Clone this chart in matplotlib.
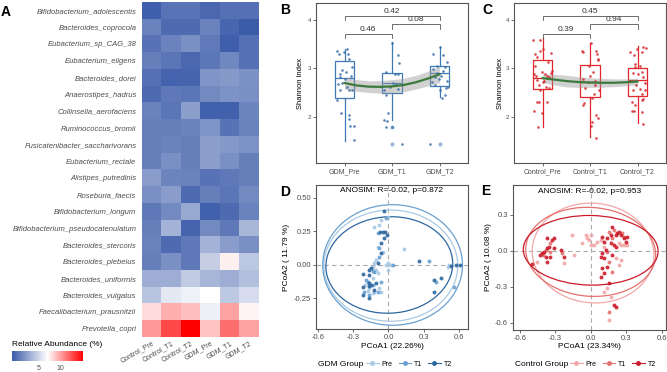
import numpy as np
import matplotlib.pyplot as plt
from matplotlib.colors import LinearSegmentedColormap, Normalize
from matplotlib.patches import Ellipse
from matplotlib.lines import Line2D

plt.rcParams['font.family'] = ['Liberation Sans', 'DejaVu Sans']

# ---------------- panel A data ----------------
taxa = ['Bifidobacterium_adolescentis', 'Bacteroides_coprocola', 'Eubacterium_sp_CAG_38',
        'Eubacterium_eligens', 'Bacteroides_dorei', 'Anaerostipes_hadrus',
        'Collinsella_aerofaciens', 'Ruminococcus_bromii', 'Fusicatenibacter_saccharivorans',
        'Eubacterium_rectale', 'Alistipes_putredinis', 'Roseburia_faecis',
        'Bifidobacterium_longum', 'Bifidobacterium_pseudocatenulatum', 'Bacteroides_stercoris',
        'Bacteroides_plebeius', 'Bacteroides_uniformis', 'Bacteroides_vulgatus',
        'Faecalibacterium_prausnitzii', 'Prevotella_copri']
samples = ['Control_Pre', 'Control_T1', 'Control_T2', 'GDM_Pre', 'GDM_T1', 'GDM_T2']
abund = [
    [-1.24, -0.12, -0.12, -0.82, -0.32, -0.32],
    [0.57, -0.59, -0.59, 0.53, -0.90, -1.50],
    [-0.20, 0.61, 1.26, 0.14, -1.29, -0.33],
    [0.40, -0.07, -0.77, 0.01, 0.83, -0.33],
    [-0.33, -1.06, -0.98, 1.52, 1.78, 1.35],
    [-0.64, 0.06, -0.07, 0.96, 1.39, 1.26],
    [0.57, -0.07, 2.04, -1.11, -1.11, 0.74],
    [0.40, 0.40, 0.57, 1.48, -0.20, 0.57],
    [0.40, 0.57, 0.40, 2.04, 1.73, 1.39],
    [0.40, 1.26, 0.40, 2.04, 1.26, 0.40],
    [1.95, 0.74, 0.57, -0.20, 0.06, 0.40],
    [1.26, 1.95, -0.59, 0.40, -0.07, 0.96],
    [0.06, 0.96, 2.51, -1.19, -0.59, 0.57],
    [0.40, 3.03, -1.03, 0.96, 0.06, 3.25],
    [0.57, -0.59, 0.06, 3.03, 1.95, 1.26],
    [0.40, 1.26, 0.06, 4.50, 7.50, 4.11],
    [2.77, 2.77, 4.28, 3.16, 2.77, 3.68],
    [3.98, 5.83, 6.27, 7.00, 4.19, 5.23],
    [8.16, 9.70, 9.17, 6.22, 10.07, 7.40],
    [10.37, 13.04, 15.50, 8.96, 11.84, 10.07],
]

# ---------------- panel B/C data ----------------
gdm_groups = ['GDM_Pre', 'GDM_T1', 'GDM_T2']
ctrl_groups = ['Control_Pre', 'Control_T1', 'Control_T2']

gdm_box = [  # q1, median, q3, whisker low, whisker high, outliers
    (2.39, 2.80, 3.15, 1.51, 3.41, []),
    (2.49, 2.70, 2.91, 1.93, 3.54, [1.80, 1.44]),
    (2.63, 2.90, 3.06, 2.41, 3.44, [1.44]),
]
ctrl_box = [
    (2.58, 2.81, 3.18, 1.80, 3.62, []),
    (2.41, 2.72, 3.08, 1.58, 3.52, []),
    (2.43, 2.77, 3.00, 1.87, 3.47, []),
]

gdm_pre_jit = [-0.16, -0.11, -0.02, 0.05, 0.07, 0.10, -0.05, 0.04, 0.15, 0.14, -0.09, -0.13, -0.09,
               0.10, 0.15, -0.16, -0.08, 0.10, 0.10, 0.12, 0.19, 0.19, -0.06, 0.0, 0.06, -0.10]
gdm_pre_sh = [3.37, 3.29, 3.34, 3.40, 3.30, 3.20, 2.96, 2.93, 3.02, 2.85, 2.88, 2.68, 2.55,
              2.55, 2.55, 2.35, 2.08, 2.05, 1.95, 1.82, 1.82, 1.52, 2.70, 2.78, 2.62, 2.82]
gdm_t1_jit = [0.0, 0.13, 0.155, -0.13, 0.07, 0.13, -0.16, -0.12, 0.09, -0.04, 0.02, 0.12,
              -0.09, -0.16, -0.10, -0.12, 0.0, 0.20]
gdm_t1_sh = [3.52, 3.27, 3.11, 2.93, 2.89, 2.88, 2.55, 2.46, 2.68, 2.62, 2.70, 2.58,
             2.08, 1.94, 1.91, 1.79, 1.80, 1.44]
gdm_t2_jit = [-0.13, 0.01, 0.08, 0.15, -0.13, -0.06, 0.08, 0.12, -0.16, -0.09, 0.01, 0.13,
              0.18, 0.05, 0.12, -0.02, 0.03, -0.10, 0.16, -0.06, -0.20]
gdm_t2_sh = [3.30, 3.44, 3.27, 3.14, 2.98, 2.90, 2.95, 3.02, 2.72, 2.65, 2.55, 2.60,
             2.62, 2.40, 2.45, 2.78, 2.85, 2.83, 2.75, 3.05, 1.44]

ctrl_pre_jit = [-0.20, -0.05, 0.18, -0.16, -0.12, -0.05, 0.02, -0.18, -0.14, -0.11, -0.02, 0.05,
                0.10, 0.14, 0.17, -0.05, -0.12, -0.07, 0.10, -0.18, -0.02, -0.09, 0.07, 0.14,
                -0.16, 0.12, 0.0, 0.21, -0.08, 0.04]
ctrl_pre_sh = [3.59, 3.59, 3.32, 3.30, 3.23, 3.37, 3.41, 2.89, 2.84, 2.77, 2.92, 2.89,
               2.85, 2.82, 2.90, 2.56, 2.31, 2.31, 2.31, 2.12, 2.08, 1.80, 2.62, 2.60,
               3.06, 3.13, 2.73, 2.95, 2.65, 2.75]
ctrl_t1_jit = [-0.15, 0.02, 0.14, 0.17, -0.16, 0.13, 0.16, 0.06, 0.0, 0.11, 0.18, -0.05, -0.12,
               -0.15, 0.13, 0.16, 0.035, 0.02, 0.13, -0.10, 0.08, -0.03, 0.10, -0.14, 0.05]
ctrl_t1_sh = [3.34, 3.52, 3.30, 3.20, 3.37, 3.37, 3.18, 2.92, 2.85, 2.75, 2.56, 2.72, 2.29,
              2.24, 2.03, 1.98, 1.89, 1.82, 1.57, 2.60, 2.48, 3.05, 2.65, 2.78, 2.40]
ctrl_t2_jit = [-0.16, -0.07, -0.02, 0.09, 0.18, -0.05, 0.02, 0.09, 0.12, -0.03, 0.05, 0.16, 0.09,
               -0.09, -0.12, -0.05, 0.09, 0.12, 0.09, -0.07, -0.12, 0.12, -0.05, 0.05, 0.12,
               -0.16, 0.15, -0.10]
ctrl_t2_sh = [3.34, 3.27, 3.41, 3.34, 3.43, 3.03, 2.89, 2.92, 2.82, 2.65, 2.58, 2.55, 2.48,
              2.55, 2.31, 2.24, 2.34, 2.37, 2.10, 2.13, 2.13, 1.86, 3.10, 3.06, 3.44,
              2.75, 2.70, 2.90]

smooth_x = [1, 1.25, 1.5, 1.75, 2, 2.25, 2.5, 2.75, 3]
gdm_fit = [2.70, 2.65, 2.625, 2.62, 2.63, 2.66, 2.715, 2.79, 2.88]
gdm_se = [0.13, 0.12, 0.12, 0.13, 0.14, 0.14, 0.14, 0.15, 0.17]
ctrl_fit = [2.80, 2.77, 2.74, 2.72, 2.71, 2.705, 2.705, 2.715, 2.73]
ctrl_se = [0.09, 0.11, 0.12, 0.11, 0.10, 0.09, 0.08, 0.07, 0.07]

gdm_pvals = [(1, 2, 3.72, '0.46'), (1, 3, 4.09, '0.42'), (2, 3, 3.91, '0.08')]
ctrl_pvals = [(1, 2, 3.72, '0.39'), (1, 3, 4.09, '0.45'), (2, 3, 3.91, '0.94')]

# ---------------- panel D/E data ----------------
time_labels = ['Pre', 'T1', 'T2']

gdm_pre_x = [-0.064, -0.007, -0.078, -0.121, -0.092, -0.106, -0.121, -0.135, -0.092, -0.078, -0.177,
             -0.121, -0.135, -0.007, 0.021, -0.021, 0.135, 0.504, 0.517, -0.064, -0.163, -0.197,
             -0.135, -0.106, -0.05, -0.007]
gdm_pre_y = [0.336, 0.36, 0.299, 0.286, 0.137, 0.037, 0.013, -0.012, -0.062, -0.174, -0.194,
             -0.199, -0.211, 0.013, 0.0, 0.0, 0.117, -0.012, 0.0, -0.199, -0.174, -0.149,
             -0.1, -0.037, 0.1, -0.04]
gdm_t1_x = [-0.021, -0.092, -0.078, -0.078, -0.135, -0.121, -0.191, -0.135, -0.064, -0.206, -0.163,
            -0.092, 0.036, 0.347, 0.404, 0.56, -0.177]
gdm_t1_y = [0.348, 0.236, 0.124, 0.062, -0.045, -0.05, -0.112, -0.149, -0.124, -0.199, -0.224,
            -0.199, 0.0, 0.03, -0.124, -0.162, -0.124]
gdm_t2_x = [-0.036, -0.072, -0.05, -0.03, -0.015, -0.036, -0.064, -0.064, -0.092, -0.149, -0.163,
            -0.22, -0.163, -0.163, -0.149, -0.169, -0.106, -0.22, -0.22, 0.262, 0.532, 0.574,
            0.609, 0.39, 0.447, 0.39, -0.163, -0.121]
gdm_t2_y = [0.405, 0.249, 0.249, 0.249, 0.224, 0.199, 0.162, 0.087, 0.013, -0.025, -0.037,
            -0.07, -0.075, -0.137, -0.149, -0.157, -0.137, -0.162, -0.224, 0.03, -0.007, 0.0,
            0.0, -0.112, -0.1, -0.199, -0.249, -0.187]

ctrl_pre_x = [-0.453, -0.227, -0.142, -0.156, -0.072, -0.043, -0.035, -0.015, 0.0, 0.084, 0.112,
              0.239, 0.253, 0.281, 0.309, 0.211, 0.239, 0.253, 0.14, 0.112, 0.169, 0.154, 0.027,
              0.055, 0.0]
ctrl_pre_y = [-0.092, -0.105, -0.036, 0.131, 0.062, 0.131, 0.103, 0.089, 0.048, 0.089, 0.033,
              0.062, 0.048, 0.048, 0.048, -0.064, -0.119, -0.078, -0.314, -0.342, -0.383, -0.578,
              0.048, 0.075, 0.131]
ctrl_t1_x = [-0.382, -0.34, -0.402, -0.34, -0.242, 0.154, 0.197, 0.267, 0.182, 0.14, 0.154, 0.182,
             0.154, 0.281]
ctrl_t1_y = [0.006, 0.062, -0.036, -0.008, -0.022, 0.158, 0.173, 0.145, 0.103, -0.008, -0.092,
             -0.175, -0.508, 0.117]
ctrl_t2_x = [-0.496, -0.425, -0.411, -0.397, -0.369, -0.354, -0.326, -0.369, -0.312, -0.346, -0.369,
             -0.382, -0.312, -0.255, -0.227, 0.097, 0.112, 0.14, 0.169, 0.182, 0.211, 0.225, 0.239,
             0.253, 0.281, 0.309, 0.169, 0.197, 0.126, 0.211, 0.097, 0.084, 0.112, 0.182, 0.14,
             0.097, 0.112, 0.084, 0.154, 0.197, 0.211, 0.296]
ctrl_t2_y = [-0.111, -0.036, -0.022, -0.008, 0.02, 0.033, 0.089, 0.103, 0.103, -0.05, -0.092,
             -0.05, 0.02, 0.006, -0.05, 0.117, 0.075, 0.103, 0.131, 0.2, 0.131, 0.145, 0.158,
             0.131, 0.103, 0.117, 0.062, 0.048, 0.006, 0.033, -0.022, -0.05, -0.064, -0.036,
             -0.133, -0.147, -0.189, -0.217, -0.272, -0.453, -0.467, 0.075]

# ellipse: centre x, centre y, width, height, angle
gdm_ell = [(0.02, -0.005, 1.14, 0.83, 0), (0.035, 0.0, 1.19, 0.90, 0), (0.007, 0.0, 1.08, 0.72, 2)]
ctrl_ell = [(0.02, -0.02, 1.03, 0.83, -5), (0.0, -0.01, 1.10, 0.74, -4), (0.0, 0.003, 1.14, 0.58, -1)]

# ---------------- figure ----------------
W, H = 667, 372
fig = plt.figure(figsize=(W / 100, H / 100), dpi=100)
TXT = '#4D4D4D'


def add_ax(x0, y0, x1, y1):
    return fig.add_axes([x0 / W, 1 - y1 / H, (x1 - x0) / W, (y1 - y0) / H])


def style_frame(ax):
    for s in ax.spines.values():
        s.set_color('#555555')
        s.set_linewidth(0.8)
    ax.tick_params(length=2, width=0.5, color='#333333', labelcolor=TXT, pad=1.5)


# A: heatmap
ax = add_ax(142, 2, 259, 337)
cmap = LinearSegmentedColormap.from_list('abund', ['#3B5BA9', '#FFFFFF', '#FF0000'])
norm = Normalize(-1.5, 15.5)
im = ax.imshow(np.array(abund), cmap=cmap, norm=norm, aspect='auto', interpolation='nearest')
ax.set_yticks(range(len(taxa)))
ax.set_yticklabels(taxa, fontstyle='italic', fontsize=5.5, color=TXT)
ax.set_xticks(range(len(samples)))
ax.set_xticklabels(samples, rotation=30, ha='right', rotation_mode='anchor', fontsize=5, color=TXT)
ax.tick_params(axis='y', length=0, pad=4)
ax.tick_params(axis='x', length=0, pad=2)
for s in ax.spines.values():
    s.set_visible(False)

cax = add_ax(12, 351, 83, 361)
cb = fig.colorbar(im, cax=cax, orientation='horizontal', ticks=[5, 10])
cb.outline.set_visible(False)
cax.tick_params(length=2, width=0.6, color='white', labelsize=5, labelcolor=TXT, pad=0.8)
fig.text(12 / W, 1 - 344 / H, 'Relative Abundance (%)', fontsize=6, va='center')


def shannon_panel(ax, names, boxes, jits, vals, fit, se, box_col, pt_col, pvals):
    stats = []
    for name, (q1, med, q3, lo, hi, fl) in zip(names, boxes):
        stats.append(dict(label=name, q1=q1, med=med, q3=q3, whislo=lo, whishi=hi, fliers=fl))
    ax.bxp(stats, positions=[1, 2, 3], widths=0.42, patch_artist=True, showfliers=True,
           boxprops=dict(facecolor='white', edgecolor=box_col, linewidth=0.9),
           medianprops=dict(color=box_col, linewidth=0.9),
           whiskerprops=dict(color=box_col, linewidth=0.9),
           capprops=dict(linewidth=0),
           flierprops=dict(marker='o', markerfacecolor=box_col, markeredgecolor='none',
                           markersize=3, alpha=0.5), zorder=2)
    lo_band = [f - s for f, s in zip(fit, se)]
    hi_band = [f + s for f, s in zip(fit, se)]
    ax.fill_between(smooth_x, lo_band, hi_band, color='#9A9A9A', alpha=0.45, lw=0, zorder=3)
    for i, (j, v) in enumerate(zip(jits, vals)):
        ax.scatter(np.array(j) + i + 1, v, s=3.5, color=pt_col, alpha=0.85, lw=0, zorder=4)
    ax.plot(smooth_x, fit, color='#3C7A3C', lw=1.6, zorder=5)
    for a, b, y, lab in pvals:
        ax.plot([a, a, b, b], [y - 0.1, y, y, y - 0.1], color='#555555', lw=0.6, zorder=5)
        ax.text((a + b) / 2, y + 0.02, lab, ha='center', va='bottom', fontsize=6, color='#333333')
    ax.set_xlim(0.4, 3.6)
    ax.set_ylim(1.05, 4.35)
    ax.set_yticks([2, 3, 4])
    ax.set_xticks([1, 2, 3])
    ax.set_xticklabels(names)
    style_frame(ax)
    ax.tick_params(axis='y', labelsize=4.5)
    ax.tick_params(axis='x', labelsize=5)
    ax.set_ylabel('Shannon index', fontsize=5.5)


axB = add_ax(316, 3, 468, 163)
shannon_panel(axB, gdm_groups, gdm_box, [gdm_pre_jit, gdm_t1_jit, gdm_t2_jit],
              [gdm_pre_sh, gdm_t1_sh, gdm_t2_sh], gdm_fit, gdm_se, '#3F7AB6', '#3A6FA8', gdm_pvals)
axB.yaxis.set_label_coords(-0.082, 0.5)

axC = add_ax(514, 3, 666, 163)
shannon_panel(axC, ctrl_groups, ctrl_box, [ctrl_pre_jit, ctrl_t1_jit, ctrl_t2_jit],
              [ctrl_pre_sh, ctrl_t1_sh, ctrl_t2_sh], ctrl_fit, ctrl_se, '#E3262B', '#D7262B', ctrl_pvals)
axC.yaxis.set_label_coords(-0.069, 0.5)


def pcoa_panel(ax, xs, ys, ells, cols, anosim, xlab, ylab):
    ax.axhline(0, color='#AAAAAA', lw=0.8, ls=(0, (4, 3)), zorder=1)
    ax.axvline(0, color='#AAAAAA', lw=0.8, ls=(0, (4, 3)), zorder=1)
    for x, y, (cx, cy, w, h, ang), c in zip(xs, ys, ells, cols):
        ax.add_patch(Ellipse((cx, cy), w, h, angle=ang, fill=False, edgecolor=c, lw=0.9, zorder=2))
        ax.scatter(x, y, s=8, color=c, lw=0, alpha=0.9, zorder=3)
    ax.text(0.5, 1 - 6 / 144, anosim, transform=ax.transAxes, ha='center', va='center', fontsize=6)
    ax.set_xticks([-0.6, -0.3, 0.0, 0.3, 0.6])
    ax.set_xticklabels(['-0.6', '-0.3', '0.0', '0.3', '0.6'])
    ax.set_xlabel(xlab, fontsize=6)
    ax.set_ylabel(ylab, fontsize=6)
    style_frame(ax)
    ax.tick_params(labelsize=5.5)


gdm_cols = ['#A9C9E4', '#6AA0D0', '#2C679F']
ctrl_cols = ['#F2A7A7', '#E4716F', '#CB1B2A']

axD = add_ax(316, 185, 468, 329)
pcoa_panel(axD, [gdm_pre_x, gdm_t1_x, gdm_t2_x], [gdm_pre_y, gdm_t1_y, gdm_t2_y], gdm_ell, gdm_cols,
           'ANOSIM: R=-0.02, p=0.872', 'PCoA1 (22.26%)', 'PCoA2 ( 11.79 %)')
axD.set_xlim(-0.617, 0.677)
axD.set_ylim(-0.478, 0.597)
axD.set_yticks([-0.25, 0.0, 0.25, 0.5])
axD.set_yticklabels(['-0.25', '0.00', '0.25', '0.50'])
axD.yaxis.set_label_coords(-0.168, 0.5)
axD.xaxis.set_label_coords(0.5, -0.097)

axE = add_ax(513, 185, 666, 330)
pcoa_panel(axE, [ctrl_pre_x, ctrl_t1_x, ctrl_t2_x], [ctrl_pre_y, ctrl_t1_y, ctrl_t2_y], ctrl_ell,
           ctrl_cols, 'ANOSIM: R=-0.02, p=0.953', 'PCoA1 (23.34%)', 'PCoA2 ( 10.08 %)')
axE.set_xlim(-0.657, 0.637)
axE.set_ylim(-0.661, 0.547)
axE.set_yticks([-0.6, -0.3, 0.0, 0.3])
axE.set_yticklabels(['-0.6', '-0.3', '0.0', '0.3'])
axE.yaxis.set_label_coords(-0.14, 0.5)
axE.xaxis.set_label_coords(0.5, -0.09)

# legends
for title, tx, lx, cols in [('GDM Group', 318, 366, gdm_cols), ('Control Group', 515, 570, ctrl_cols)]:
    fig.text(tx / W, 1 - 364 / H, title, fontsize=6, va='center')
    handles = [Line2D([], [], color=c, marker='o', markersize=2.5, lw=0.8) for c in cols]
    fig.legend(handles, time_labels, ncol=3, loc='center left', bbox_to_anchor=(lx / W, 1 - 364 / H),
               frameon=False, fontsize=5, handlelength=1.8, handletextpad=0.4, columnspacing=0.9,
               borderpad=0, borderaxespad=0)

# panel letters
for lab, x, y in [('A', 6, 12), ('B', 285, 10), ('C', 487, 10), ('D', 285, 192), ('E', 486, 191)]:
    fig.text(x / W, 1 - y / H, lab, fontsize=10, fontweight='bold', ha='center', va='center')

fig.savefig('out.png', dpi=100)
